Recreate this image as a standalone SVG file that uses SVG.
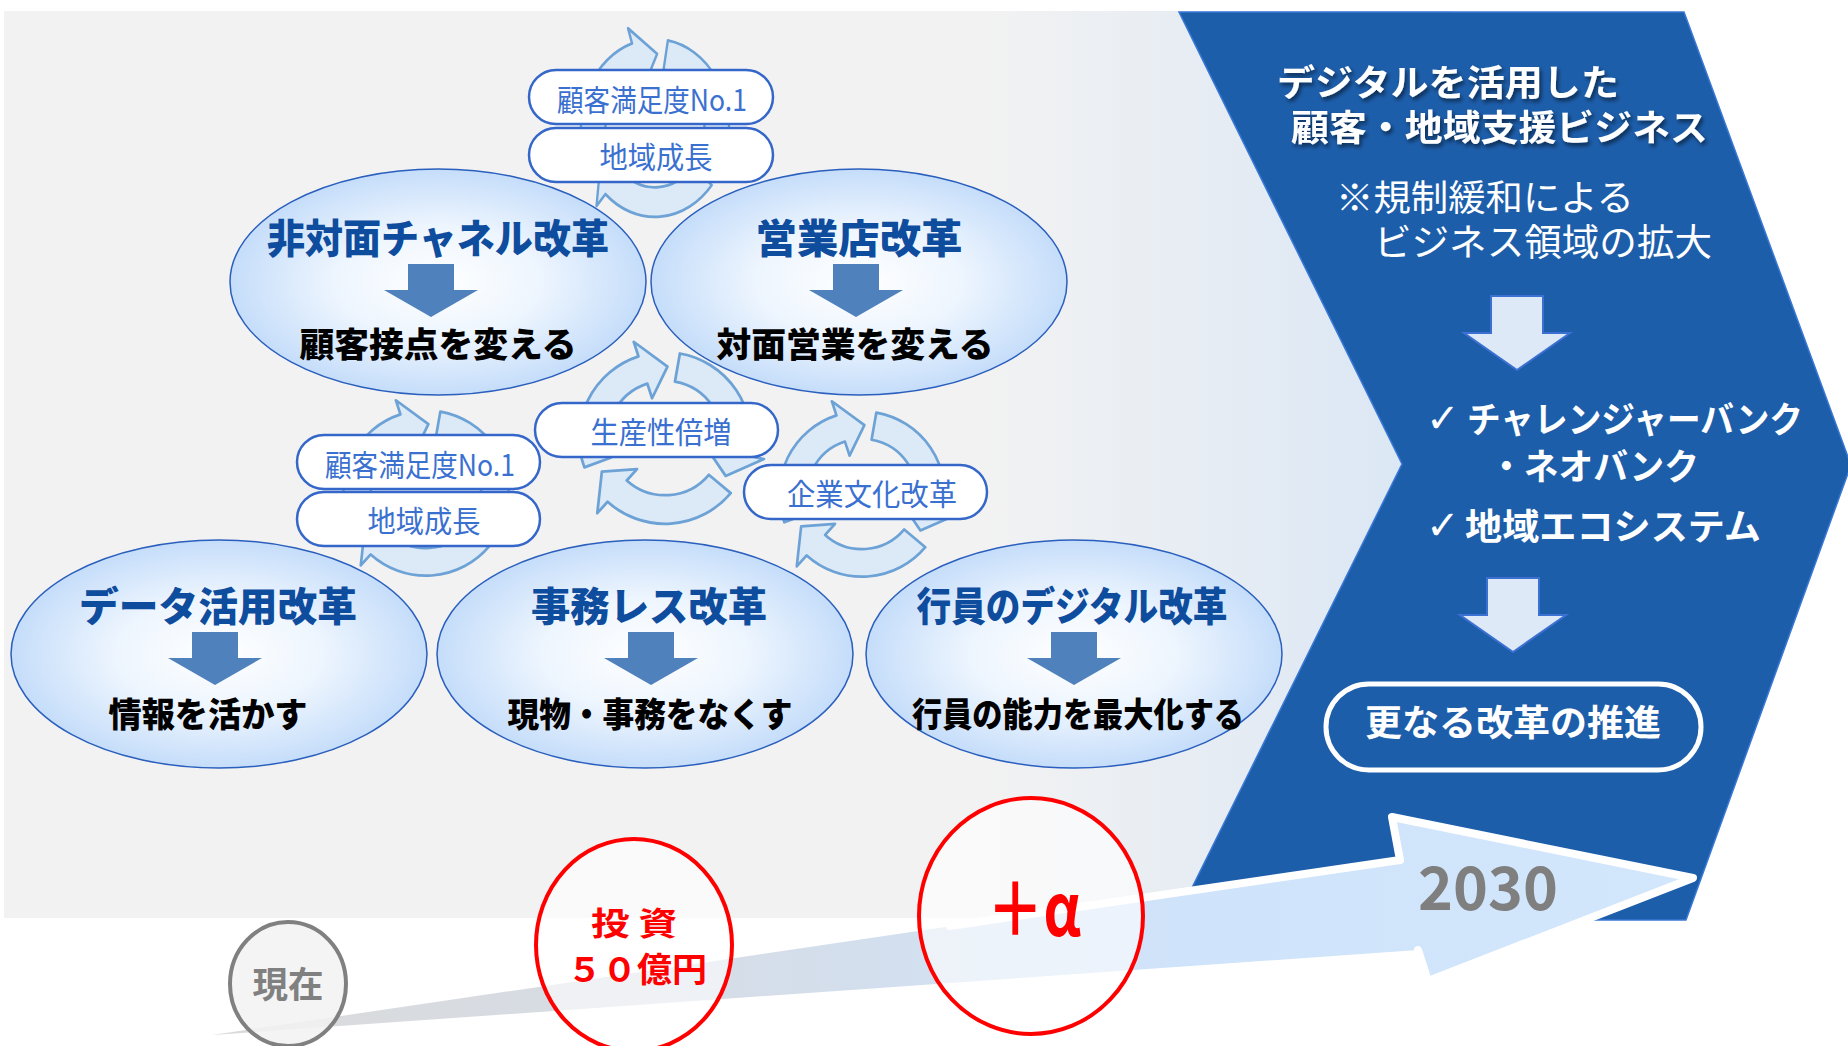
<svg xmlns="http://www.w3.org/2000/svg" xmlns:xlink="http://www.w3.org/1999/xlink" width="1848" height="1046" viewBox="0 0 1848 1046">
<style>
text { font-family: 'Noto Sans CJK JP', 'Noto Sans CJK SC', sans-serif; }
.ell { fill: url(#ellGrad); stroke: #2a5fbd; stroke-width: 1.5; }
.title { font-weight: 900; font-size: 40px; fill: #0e4c9e; text-anchor: middle; }
.sub { font-weight: 900; font-size: 34px; fill: #000; text-anchor: middle; }
.pill { fill: #fff; stroke: #3467c9; stroke-width: 2.5; }
.ptext { font-weight: 400; font-size: 30px; fill: #3a70d0; text-anchor: middle; }
.cyc { fill: #dce9f6; stroke: #6da2d6; stroke-width: 2.5; stroke-linejoin: round; }
.darr { fill: #4f81bd; }
.warr { fill: #dde9f6; stroke: #3c70d2; stroke-width: 2; }
.wt { fill: #fff; font-weight: 700; font-size: 36px; }
.wl { fill: #fff; font-weight: 400; font-size: 36px; }
.chk { fill: #fff; font-family: 'DejaVu Sans', sans-serif; font-size: 40px; }
.red { fill: #ff0000; font-weight: 700; text-anchor: middle; }
.rc { fill: #ffffff; fill-opacity: 0.6; stroke: #ff0000; stroke-width: 4; }
</style>
<defs>
<linearGradient id="bgGrad" gradientUnits="userSpaceOnUse" x1="4" y1="0" x2="1450" y2="0">
<stop offset="0" stop-color="#f2f2f2"/><stop offset="0.68" stop-color="#f2f2f2"/><stop offset="1" stop-color="#d9e6f5"/>
</linearGradient>
<radialGradient id="ellGrad" cx="0.5" cy="0.5" r="0.5">
<stop offset="0" stop-color="#ffffff"/><stop offset="0.5" stop-color="#edf5fe"/><stop offset="1" stop-color="#c5ddfa"/>
</radialGradient>
<linearGradient id="bigArrGrad" gradientUnits="userSpaceOnUse" x1="212" y1="0" x2="1700" y2="0">
<stop offset="0" stop-color="#dadada"/><stop offset="0.35" stop-color="#d5dde8"/><stop offset="0.65" stop-color="#cfe3fa"/><stop offset="1" stop-color="#d2e6fc"/>
</linearGradient>
<filter id="shadow" x="-1%" y="-5%" width="103%" height="112%">
<feDropShadow dx="2" dy="3" stdDeviation="2" flood-color="#000" flood-opacity="0.55"/>
</filter>
<path id="carr" class="cyc" d="M78,0 A78,78 0 0 1 -2.72,77.95 L-3.21,91.94 L-24.35,60.27 L-1.33,37.98 L-1.81,51.97 A52,52 0 0 0 52,0 Z"/>
<g id="cycle">
<use xlink:href="#carr" transform="rotate(160)"/>
<use xlink:href="#carr" transform="rotate(280)"/>
<use xlink:href="#carr" transform="rotate(40)"/>
</g>
<path id="downArr" class="darr" d="M-23,0 H23 V26 H47 L0,53 L-47,26 H-23 Z"/>
<path id="whiteArr" class="warr" d="M-26,0 H26 V37 H53 L0,74 L-53,37 H-26 Z"/>
</defs>

<g id="background">
<rect x="4" y="11" width="1446" height="907" fill="url(#bgGrad)"/>
</g>

<g id="chevron">
<path d="M1179,12 L1684,12 L1851,465 L1686,920 L1176,920 L1402,464 Z" fill="#1d5eab" stroke="#3a78d6" stroke-width="1.5"/>
<text class="wt" font-size="38" filter="url(#shadow)"><tspan x="1277" y="96" textLength="342" lengthAdjust="spacingAndGlyphs">デジタルを活用した</tspan><tspan x="1291" y="141" textLength="417" lengthAdjust="spacingAndGlyphs">顧客・地域支援ビジネス</tspan></text>
<text class="wl"><tspan x="1336" y="211" textLength="298" lengthAdjust="spacingAndGlyphs">※規制緩和による</tspan><tspan x="1374" y="256" font-size="37" textLength="338" lengthAdjust="spacingAndGlyphs">ビジネス領域の拡大</tspan></text>
<use xlink:href="#whiteArr" x="1517" y="296"/>
<text class="chk" x="1426" y="432">✓</text>
<text class="wt" x="1467" y="433" textLength="336" lengthAdjust="spacingAndGlyphs">チャレンジャーバンク</text>
<text class="wt" x="1489" y="480" textLength="210" lengthAdjust="spacingAndGlyphs">・ネオバンク</text>
<text class="chk" x="1426" y="539">✓</text>
<text class="wt" x="1465" y="540" textLength="296" lengthAdjust="spacingAndGlyphs">地域エコシステム</text>
<use xlink:href="#whiteArr" x="1513" y="578"/>
</g>

<g id="node-further-reform">
<rect x="1326" y="684" width="375" height="86" rx="43" fill="#1d5eab" stroke="#fff" stroke-width="5"/>
<text class="wt" x="1513" y="736" text-anchor="middle" textLength="296" lengthAdjust="spacingAndGlyphs">更なる改革の推進</text>
</g>

<g id="connectors">
<use xlink:href="#cycle" transform="translate(655,128) scale(0.95,1.14)"/>
<use xlink:href="#cycle" transform="translate(665,438) scale(1.1)"/>
<use xlink:href="#cycle" transform="translate(426,493) scale(1.06)"/>
<use xlink:href="#cycle" transform="translate(862,494) scale(1.06)"/>
</g>

<g id="node-nonface">
<ellipse class="ell" cx="438" cy="282" rx="208" ry="113"/>
<text class="title" x="438" y="253" textLength="342" lengthAdjust="spacingAndGlyphs">非対面チャネル改革</text>
<use xlink:href="#downArr" x="431" y="264"/>
<text class="sub" x="438" y="357" textLength="277" lengthAdjust="spacingAndGlyphs">顧客接点を変える</text>
</g>

<g id="node-branch">
<ellipse class="ell" cx="859" cy="282" rx="208" ry="113"/>
<text class="title" x="859" y="253" textLength="207" lengthAdjust="spacingAndGlyphs">営業店改革</text>
<use xlink:href="#downArr" x="856" y="264"/>
<text class="sub" x="855" y="357" textLength="277" lengthAdjust="spacingAndGlyphs">対面営業を変える</text>
</g>

<g id="node-data">
<ellipse class="ell" cx="219" cy="654" rx="208" ry="114"/>
<text class="title" x="218" y="621" textLength="278" lengthAdjust="spacingAndGlyphs">データ活用改革</text>
<use xlink:href="#downArr" x="215" y="632"/>
<text class="sub" x="208" y="727" textLength="199" lengthAdjust="spacingAndGlyphs">情報を活かす</text>
</g>

<g id="node-paperless">
<ellipse class="ell" cx="645" cy="654" rx="208" ry="114"/>
<text class="title" x="649" y="621" textLength="236" lengthAdjust="spacingAndGlyphs">事務レス改革</text>
<use xlink:href="#downArr" x="651" y="632"/>
<text class="sub" x="650" y="727" textLength="285" lengthAdjust="spacingAndGlyphs">現物・事務をなくす</text>
</g>

<g id="node-staff">
<ellipse class="ell" cx="1074" cy="654" rx="208" ry="114"/>
<text class="title" x="1072" y="621" textLength="311" lengthAdjust="spacingAndGlyphs">行員のデジタル改革</text>
<use xlink:href="#downArr" x="1074" y="632"/>
<text class="sub" x="1078" y="727" textLength="332" lengthAdjust="spacingAndGlyphs">行員の能力を最大化する</text>
</g>

<g id="pill-top-cs">
<rect class="pill" x="529" y="70" width="244" height="54" rx="27"/>
<text class="ptext" x="652" y="111" textLength="190" lengthAdjust="spacingAndGlyphs">顧客満足度No.1</text>
</g>
<g id="pill-top-region">
<rect class="pill" x="529" y="128" width="244" height="54" rx="27"/>
<text class="ptext" x="656" y="168" textLength="113" lengthAdjust="spacingAndGlyphs">地域成長</text>
</g>
<g id="pill-left-cs">
<rect class="pill" x="297" y="435" width="243" height="54" rx="27"/>
<text class="ptext" x="420" y="476" textLength="190" lengthAdjust="spacingAndGlyphs">顧客満足度No.1</text>
</g>
<g id="pill-left-region">
<rect class="pill" x="297" y="492" width="243" height="54" rx="27"/>
<text class="ptext" x="424" y="532" textLength="113" lengthAdjust="spacingAndGlyphs">地域成長</text>
</g>
<g id="pill-productivity">
<rect class="pill" x="535" y="403" width="243" height="54" rx="27"/>
<text class="ptext" x="661" y="443" textLength="141" lengthAdjust="spacingAndGlyphs">生産性倍増</text>
</g>
<g id="pill-culture">
<rect class="pill" x="744" y="465" width="243" height="54" rx="27"/>
<text class="ptext" x="872" y="505" textLength="170" lengthAdjust="spacingAndGlyphs">企業文化改革</text>
</g>

<g id="timeline-arrow">
<path d="M212,1035 L1400,860 L1392,817 L1693,878 L1428,981 L1418,950 Z" fill="url(#bigArrGrad)"/>
<path d="M950,926 L1400,860 L1392,817 L1693,878 L1428,981 L1418,950" fill="none" stroke="#fff" stroke-width="8" stroke-linejoin="round" stroke-linecap="round"/>
<text x="1418" y="910" font-family="'Liberation Sans', sans-serif" font-weight="700" font-size="60" fill="#7f7f7f" textLength="140" lengthAdjust="spacingAndGlyphs">2030</text>
</g>

<g id="node-now">
<ellipse cx="288" cy="984" rx="58" ry="62" fill="#f2f2f2" fill-opacity="0.85" stroke="#808080" stroke-width="4"/>
<text x="288" y="998" font-weight="700" font-size="36" fill="#808080" text-anchor="middle" textLength="71" lengthAdjust="spacingAndGlyphs">現在</text>
</g>

<g id="node-invest">
<ellipse class="rc" cx="634" cy="945" rx="98" ry="106"/>
<text class="red" font-size="32"><tspan x="634" y="935" textLength="86" lengthAdjust="spacingAndGlyphs">投 資</tspan><tspan x="637" y="982" font-size="34" textLength="140" lengthAdjust="spacingAndGlyphs">５０億円</tspan></text>
</g>

<g id="node-alpha">
<ellipse class="rc" cx="1031" cy="916" rx="112" ry="118"/>
<text class="red" x="1034" y="936" font-size="74" textLength="94" lengthAdjust="spacingAndGlyphs">＋α</text>
</g>
</svg>
